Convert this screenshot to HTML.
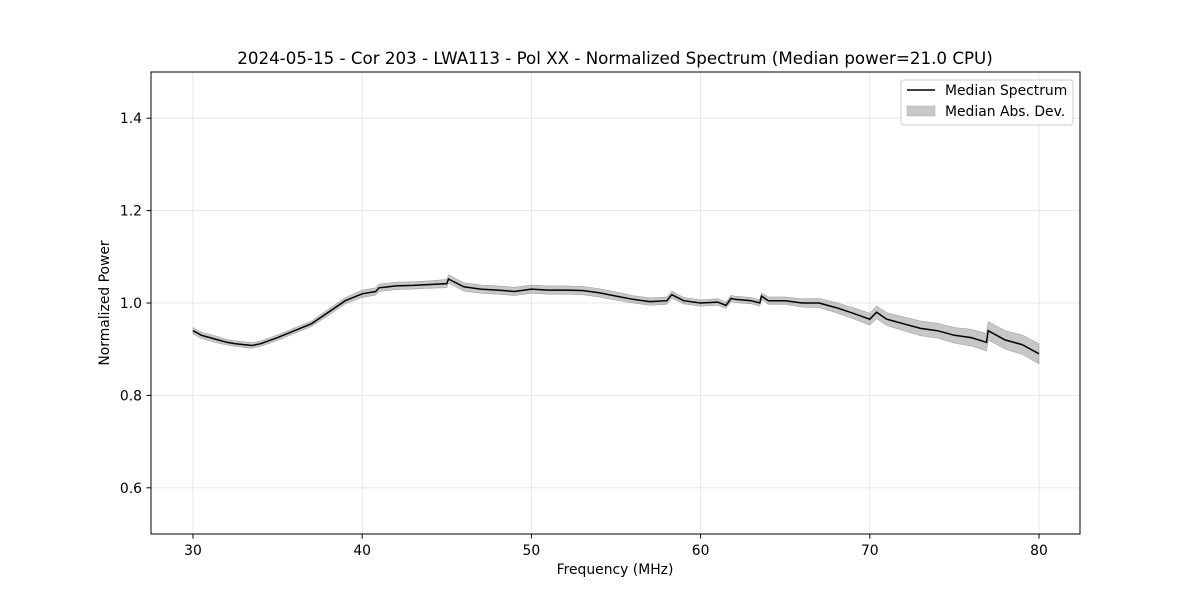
<!DOCTYPE html>
<html><head><meta charset="utf-8"><style>
body{margin:0;background:#fff;font-family:"DejaVu Sans","Liberation Sans",sans-serif;}
svg text{font-family:"DejaVu Sans","Liberation Sans",sans-serif;fill:#000;}
</style></head><body>
<svg id="chart" width="1200" height="600" xmlns="http://www.w3.org/2000/svg">
<rect width="1200" height="600" fill="#fff"/>
<g id="grid"></g>
<path id="band" fill="#000" fill-opacity="0.22" stroke="#999" stroke-width="0.5"/>
<path id="line" fill="none" stroke="#000" stroke-width="1.5"/>
<rect x="151" y="72" width="929" height="462" fill="none" stroke="#000" stroke-width="1"/>
<g id="ticks"></g>
<text x="615" y="64" text-anchor="middle" font-size="16.7">2024-05-15 - Cor 203 - LWA113 - Pol XX - Normalized Spectrum (Median power=21.0 CPU)</text>
<text x="615" y="574" text-anchor="middle" font-size="13.9">Frequency (MHz)</text>
<text x="109" y="303" text-anchor="middle" font-size="13.9" transform="rotate(-90 109 303)">Normalized Power</text>
<g>
<rect x="901" y="80" width="172" height="45" rx="3" fill="#fff" fill-opacity="0.8" stroke="#ccc"/>
<line x1="907" y1="90" x2="935" y2="90" stroke="#000" stroke-width="1.5"/>
<text x="945" y="95" font-size="13.9">Median Spectrum</text>
<rect x="907" y="106" width="28" height="10" fill="#c8c8c8" stroke="#aaa" stroke-width="0.5"/>
<text x="945" y="116" font-size="13.9">Median Abs. Dev.</text>
</g>
</svg>
<script>
const freqs=[30,30.5,31,31.5,32,32.5,33,33.5,34,35,36,37,38,39,40,40.8,41,42,43,44,45,45.1,46,47,48,49,50,51,52,53,54,55,56,57,58,58.3,59,60,61,61.5,61.8,62,63,63.5,63.6,64,65,66,67,68,69,70,70.4,71,72,73,74,75,76,76.9,77,78,79,80];
const median=[0.94,0.93,0.925,0.92,0.915,0.912,0.91,0.908,0.912,0.925,0.94,0.955,0.98,1.005,1.02,1.025,1.033,1.037,1.038,1.04,1.042,1.052,1.035,1.03,1.028,1.025,1.03,1.028,1.028,1.027,1.022,1.015,1.008,1.003,1.005,1.018,1.005,1.0,1.002,0.995,1.01,1.008,1.005,1.0,1.015,1.005,1.005,1.0,1.0,0.99,0.978,0.965,0.98,0.965,0.955,0.945,0.94,0.93,0.925,0.915,0.94,0.92,0.91,0.89];
const mad=[0.007,0.007,0.007,0.007,0.006,0.006,0.006,0.006,0.006,0.006,0.006,0.006,0.007,0.007,0.008,0.008,0.008,0.008,0.008,0.008,0.009,0.009,0.009,0.009,0.009,0.009,0.009,0.009,0.009,0.009,0.009,0.009,0.008,0.008,0.008,0.008,0.007,0.007,0.007,0.007,0.007,0.007,0.007,0.007,0.007,0.008,0.008,0.009,0.01,0.011,0.012,0.013,0.014,0.014,0.015,0.016,0.016,0.017,0.018,0.019,0.02,0.02,0.021,0.022];
const xTicks=[30,40,50,60,70,80];
const yTicks=[0.6,0.8,1.0,1.2,1.4];
const yTickLabels=["0.6","0.8","1.0","1.2","1.4"];
const X=v=>193+(v-30)*(1039-193)/50;
const Y=v=>534-(v-0.5)*462;
const NS='http://www.w3.org/2000/svg';
const grid=document.getElementById('grid'),ticks=document.getElementById('ticks');
function mk(tag,attrs,parent){const e=document.createElementNS(NS,tag);for(const k in attrs)e.setAttribute(k,attrs[k]);parent.appendChild(e);return e;}
xTicks.forEach(t=>{
  const g=mk('line',{x1:X(t),x2:X(t),y1:72,y2:534,stroke:'#b0b0b0','stroke-width':0.8,'stroke-opacity':0.35},grid);
  
  
  mk('line',{x1:X(t),x2:X(t),y1:534,y2:538.5,stroke:'#000'},ticks);
  const l=mk('text',{x:X(t),y:555,'text-anchor':'middle','font-size':13.9},ticks);
  l.textContent=t;
  
  
});
yTicks.forEach((t,i)=>{
  const g=mk('line',{x1:151,x2:1080,y1:Y(t),y2:Y(t),stroke:'#b0b0b0','stroke-width':0.8,'stroke-opacity':0.35},grid);
  
  
  mk('line',{x1:146.5,x2:151,y1:Y(t),y2:Y(t),stroke:'#000'},ticks);
  const l=mk('text',{x:142,y:Y(t)+5,'text-anchor':'end','font-size':13.9},ticks);
  l.textContent=yTickLabels[i];
  
  
});
let d='';freqs.forEach((f,i)=>{d+=(i?'L':'M')+X(f).toFixed(1)+','+Y(median[i]).toFixed(1);});
document.getElementById('line').setAttribute('d',d);
let b='';freqs.forEach((f,i)=>{b+=(i?'L':'M')+X(f).toFixed(1)+','+Y(median[i]+mad[i]).toFixed(1);});
for(let i=freqs.length-1;i>=0;i--)b+='L'+X(freqs[i]).toFixed(1)+','+Y(median[i]-mad[i]).toFixed(1);
document.getElementById('band').setAttribute('d',b+'Z');
</script>
</body></html>
